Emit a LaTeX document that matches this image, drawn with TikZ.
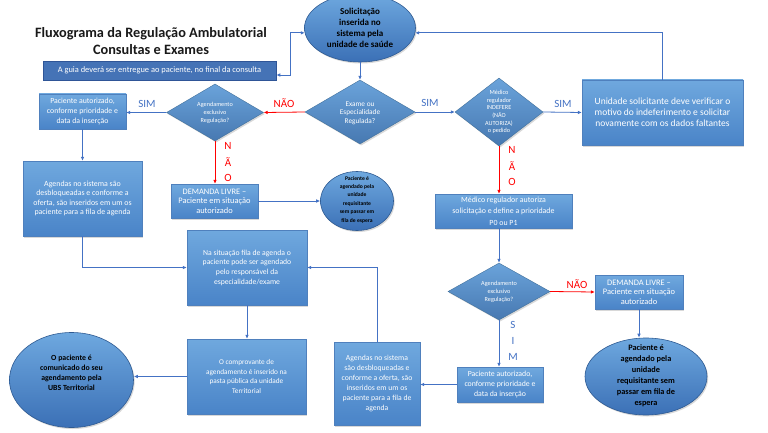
\documentclass[tikz,border=0pt]{standalone}
\usepackage{fontspec}
\setmainfont{Carlito}
\usetikzlibrary{shapes.geometric,arrows.meta,shadows,calc}
\definecolor{lineblue}{HTML}{4472C4}
\definecolor{lblblue}{HTML}{4472C4}
\definecolor{boxtop}{HTML}{6FA8DE}
\definecolor{boxbot}{HTML}{4A84C8}
\definecolor{boxedge}{HTML}{4F80BD}
\definecolor{dmfill}{HTML}{4F86C5}
\definecolor{dmedge}{HTML}{41719C}
\definecolor{eltop}{HTML}{6EA8DF}
\definecolor{elbot}{HTML}{3B70B6}
\definecolor{eledge}{HTML}{2E5A92}
\definecolor{bannerfill}{HTML}{4573B6}
\definecolor{banneredge}{HTML}{2F5597}
\definecolor{redline}{HTML}{FF0000}
\newcommand\fsz[2]{\fontsize{#1}{#2}\selectfont}
\begin{document}
\begin{tikzpicture}[x=1pt,y=-1pt,
  shadowed/.style={drop shadow={shadow xshift=1.2pt,shadow yshift=-1.5pt,opacity=0.3}},
  flowbox/.style={rectangle,draw=boxedge,line width=0.4pt,top color=boxtop,bottom color=boxbot,
    text=white,align=center,inner sep=1pt,shadowed},
  dshape/.style={diamond,draw=dmedge,line width=0.4pt,top color=boxtop!85!dmfill,bottom color=dmfill!90!black,
    inner sep=0pt,shadowed},
  eshape/.style={ellipse,draw=eledge,line width=0.6pt,top color=eltop,bottom color=elbot,inner sep=0pt,shadowed},
  dtext/.style={text=white,align=center,inner sep=0pt},
  etext/.style={text=black,align=center,inner sep=0pt,font=\bfseries},
  arr/.style={draw=lineblue,line width=0.8pt,-{Latex[length=4pt,width=3.6pt]}},
  arrboth/.style={draw=lineblue,line width=0.8pt,{Latex[length=4pt,width=3.6pt]}-{Latex[length=4pt,width=3.6pt]}},
  redarr/.style={draw=redline,line width=0.8pt,-{Latex[length=4pt,width=3.6pt]}},
  simlbl/.style={text=lblblue,font=\fsz{11}{12},inner sep=1pt},
  naolbl/.style={text=redline,font=\fsz{11}{12},inner sep=1pt}
]
\useasboundingbox (0,0) rectangle (768,433);
\fill[white] (0,0) rectangle (768,433);

% title and banner
\node[font=\bfseries\fsz{14.3}{17},align=center,text=black!90] (title) at (151,41.5)
  {Fluxograma da Regulação Ambulatorial\\Consultas e Exames};
\node[rectangle,fill=bannerfill,draw=banneredge,line width=0.6pt,minimum width=233pt,minimum height=19pt,
  text=white,font=\fsz{8.4}{9},inner sep=0pt] (b1) at (159.5,70.5)
  {A guia deverá ser entregue ao paciente, no final da consulta};

% ellipses
\node[eshape,minimum width=111pt,minimum height=68pt] (e0) at (360,28) {};
\node[etext,font=\bfseries\fsz{9}{11}] (e0t) at (360,27.5) {Solicitação\\inserida no\\sistema pela\\unidade de saúde};
\node[eshape,minimum width=73pt,minimum height=59pt] (e2) at (357,201) {};
\node[etext,font=\bfseries\fsz{5.6}{8.4}] (e2t) at (357,199.5) {Paciente é\\agendado pela\\unidade\\requisitante\\sem passar em\\fila de espera};
\node[eshape,minimum width=122pt,minimum height=77pt] (e3) at (646,376.5) {};
\node[etext,font=\bfseries\fsz{8.3}{11}] (e3t) at (646,376) {Paciente é\\agendado pela\\unidade\\requisitante sem\\passar em fila de\\espera};
\node[eshape,minimum width=124pt,minimum height=95pt] (e4) at (71.5,380) {};
\node[etext,font=\bfseries\fsz{7.8}{10}] (e4t) at (71.5,372.5) {O paciente é\\comunicado do seu\\agendamento pela\\UBS Territorial};

% diamonds
\node[dshape,minimum width=110pt,minimum height=64pt] (d1) at (360,112) {};
\node[dtext,font=\fsz{7.3}{8.6}] (d1t) at (360,113) {Exame ou\\Especialidade\\Regulada?};
\node[dshape,minimum width=88pt,minimum height=68pt] (d2) at (499,112) {};
\node[dtext,font=\fsz{6.2}{7.6}] (d2t) at (499,112) {Médico\\regulador\\INDEFERE\\(NÃO\\AUTORIZA)\\o pedido};
\node[dshape,minimum width=97pt,minimum height=57pt] (dld) at (215,112.5) {};
\node[dtext,font=\fsz{6.2}{8}] (dldt) at (215,113) {Agendamento\\exclusivo\\Regulação?};
\node[dshape,minimum width=102pt,minimum height=57pt] (d3) at (499,291.5) {};
\node[dtext,font=\fsz{6.2}{8}] (d3t) at (499,292) {Agendamento\\exclusivo\\Regulação?};

% boxes
\node[flowbox,minimum width=161pt,minimum height=65pt,font=\fsz{9.5}{11}] (r1) at (662.5,112.5)
  {Unidade solicitante deve verificar o\\motivo do indeferimento e solicitar\\novamente com os dados faltantes};
\node[flowbox,minimum width=137pt,minimum height=34pt,font=\fsz{7.9}{11.5}] (m1) at (503.5,211)
  {Médico regulador autoriza\\solicitação e define a prioridade\\P0 ou P1};
\node[flowbox,minimum width=88pt,minimum height=34pt,font=\fsz{8.4}{9.5}] (dl2) at (639,292)
  {DEMANDA LIVRE –\\Paciente em situação\\autorizado};
\node[flowbox,minimum width=86pt,minimum height=35pt,font=\fsz{7.8}{10}] (pa2) at (500,384.5)
  {Paciente autorizado,\\conforme prioridade e\\data da inserção};
\node[flowbox,minimum width=86pt,minimum height=83pt,font=\fsz{7.7}{10}] (ag2) at (377,383.5)
  {Agendas no sistema\\são desbloqueadas e\\conforme a oferta, são\\inseridos em um os\\paciente para a fila de\\agenda};
\node[flowbox,minimum width=120pt,minimum height=75pt,font=\fsz{7.7}{9.7}] (ns) at (247,267.5)
  {Na situação fila de agenda o\\paciente pode ser agendado\\pelo responsável da\\especialidade/exame};
\node[flowbox,minimum width=119pt,minimum height=75pt,font=\fsz{7.3}{9.4}] (cp) at (246.5,376.5)
  {O comprovante de\\agendamento é inserido na\\pasta pública da unidade\\Territorial};
\node[flowbox,minimum width=87pt,minimum height=35pt,font=\fsz{7.8}{10}] (pa1) at (82.5,111.5)
  {Paciente autorizado,\\conforme prioridade e\\data da inserção};
\node[flowbox,minimum width=119pt,minimum height=75pt,font=\fsz{7.9}{9.5}] (ag1) at (82.5,198.5)
  {Agendas no sistema são\\desbloqueadas e conforme a\\oferta, são inseridos em um os\\paciente para a fila de agenda};
\node[flowbox,minimum width=87pt,minimum height=34pt,font=\fsz{8.4}{9.5}] (dl1) at (214.5,201)
  {DEMANDA LIVRE –\\Paciente em situação\\autorizado};

% connectors
\coordinate (bb) at ($(b1.east)+(0,4.5)$);
\draw[arrboth] (bb) -- ++(14,0) |- (e0.185);
\draw[arr] (e0.south) -- (d1.north);
\draw[arr] (d1.east) -- (d2.west);
\node[simlbl] (s1) at (430,103) {SIM};
\draw[arr] (d2.east) -- (r1.west);
\node[simlbl] (s2) at (563,104) {SIM};
\draw[arr] (r1.north) |- (e0.355);
\draw[redarr] (d2.south) -- (d2.south |- m1.north);
\node[naolbl] (n2a) at (512,150) {N};
\node[naolbl] (n2b) at (512,166) {Ã};
\node[naolbl] (n2c) at (512,182) {O};
\draw[arr] (d3.north |- m1.south) -- (d3.north);
\draw[redarr] (d3.east) -- (dl2.west);
\node[naolbl] (n3) at (577,284) {NÃO};
\draw[arr] (dl2.south) -- (dl2.south |- e3.north);
\draw[arr] (d3.south) -- (d3.south |- pa2.north);
\node[simlbl] (s3a) at (513,325) {S};
\node[simlbl] (s3b) at (513,341) {I};
\node[simlbl] (s3c) at (513,357) {M};
\draw[arr] (pa2.west) -- (pa2.west -| ag2.east);
\draw[arr] (ag2.north) |- (ns.east);
\draw[arr] (ns.south) -- (ns.south |- cp.north);
\draw[arr] (cp.west) -- (cp.west -| e4.east);
\draw[redarr] (d1.west) -- (dld.east);
\node[naolbl] (n1) at (284,103) {NÃO};
\draw[arr] (dld.west) -- (dld.west -| pa1.east);
\node[simlbl] (s4) at (147,104) {SIM};
\draw[arr] (pa1.south) -- (ag1.north);
\draw[arr] (ag1.south) |- (ns.west);
\draw[redarr] (dld.south) -- (dld.south |- dl1.north);
\node[naolbl] (n4a) at (228,146) {N};
\node[naolbl] (n4b) at (228,162) {Ã};
\node[naolbl] (n4c) at (228,178) {O};
\draw[arr] (dl1.east) -- (e2.west);
\end{tikzpicture}
\end{document}
